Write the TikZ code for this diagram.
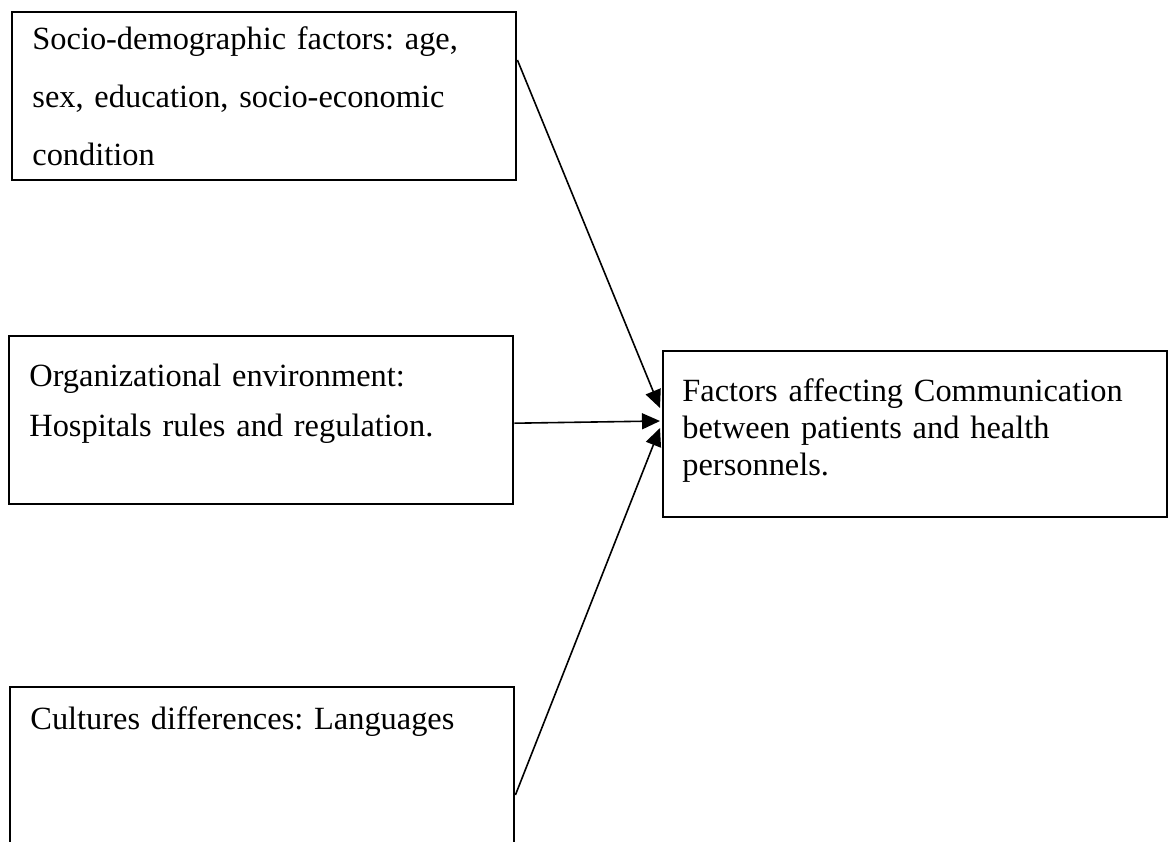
\documentclass[tikz,border=0pt]{standalone}
\usepackage{fontspec}
\setmainfont{Liberation Serif}
\usetikzlibrary{arrows.meta,calc}
\tikzset{
  factorbox/.style={draw,line width=1.2pt,inner sep=0pt,anchor=north west,minimum width=252pt,minimum height=84pt},
  boxtext/.style={anchor=base west,inner sep=0pt,text width=240pt,align=left},
  link/.style={line width=0.8pt,-{Triangle[length=9pt,width=8pt]}}
}
\frenchspacing
\begin{document}
\begin{tikzpicture}[x=0.5pt,y=-0.5pt]
\clip (0,0) rectangle (1173,841);
\node[factorbox] (socio) at (11,11) {};
\node[factorbox] (org) at (8,335) {};
\node[factorbox] (cult) at (9,686) {};
\node[factorbox,minimum height=83pt] (goal) at (662,350) {};
\node[boxtext,font=\fontsize{16.2}{29}\selectfont] (sociotext) at ($(socio.north west)+(21,38)$) {Socio-demographic factors: age,\\sex, education, socio-economic\\condition};
\node[boxtext,font=\fontsize{16.2}{25}\selectfont] (orgtext) at ($(org.north west)+(21,51)$) {Organizational environment:\\Hospitals rules and regulation.};
\node[boxtext,font=\fontsize{16.2}{25}\selectfont] (culttext) at ($(cult.north west)+(21,43)$) {Cultures differences: Languages};
\node[boxtext,font=\fontsize{16.2}{18.5}\selectfont] (goaltext) at ($(goal.north west)+(20,51)$) {Factors affecting Communication\\between patients and health\\personnels.};
\coordinate (socioout) at ($(socio.north east)+(0,49)$);
\coordinate (orgout) at ($(org.east)+(0,3)$);
\coordinate (cultout) at ($(cult.north east)+(0,109)$);
\coordinate (goalin1) at ($(goal.north west)+(-2,58)$);
\coordinate (goalin2) at ($(goal.north west)+(-2,71)$);
\coordinate (goalin3) at ($(goal.north west)+(-2,78)$);
\draw[link] (socioout) -- (goalin1);
\draw[link] (orgout) -- (goalin2);
\draw[link] (cultout) -- (goalin3);
\end{tikzpicture}
\end{document}
